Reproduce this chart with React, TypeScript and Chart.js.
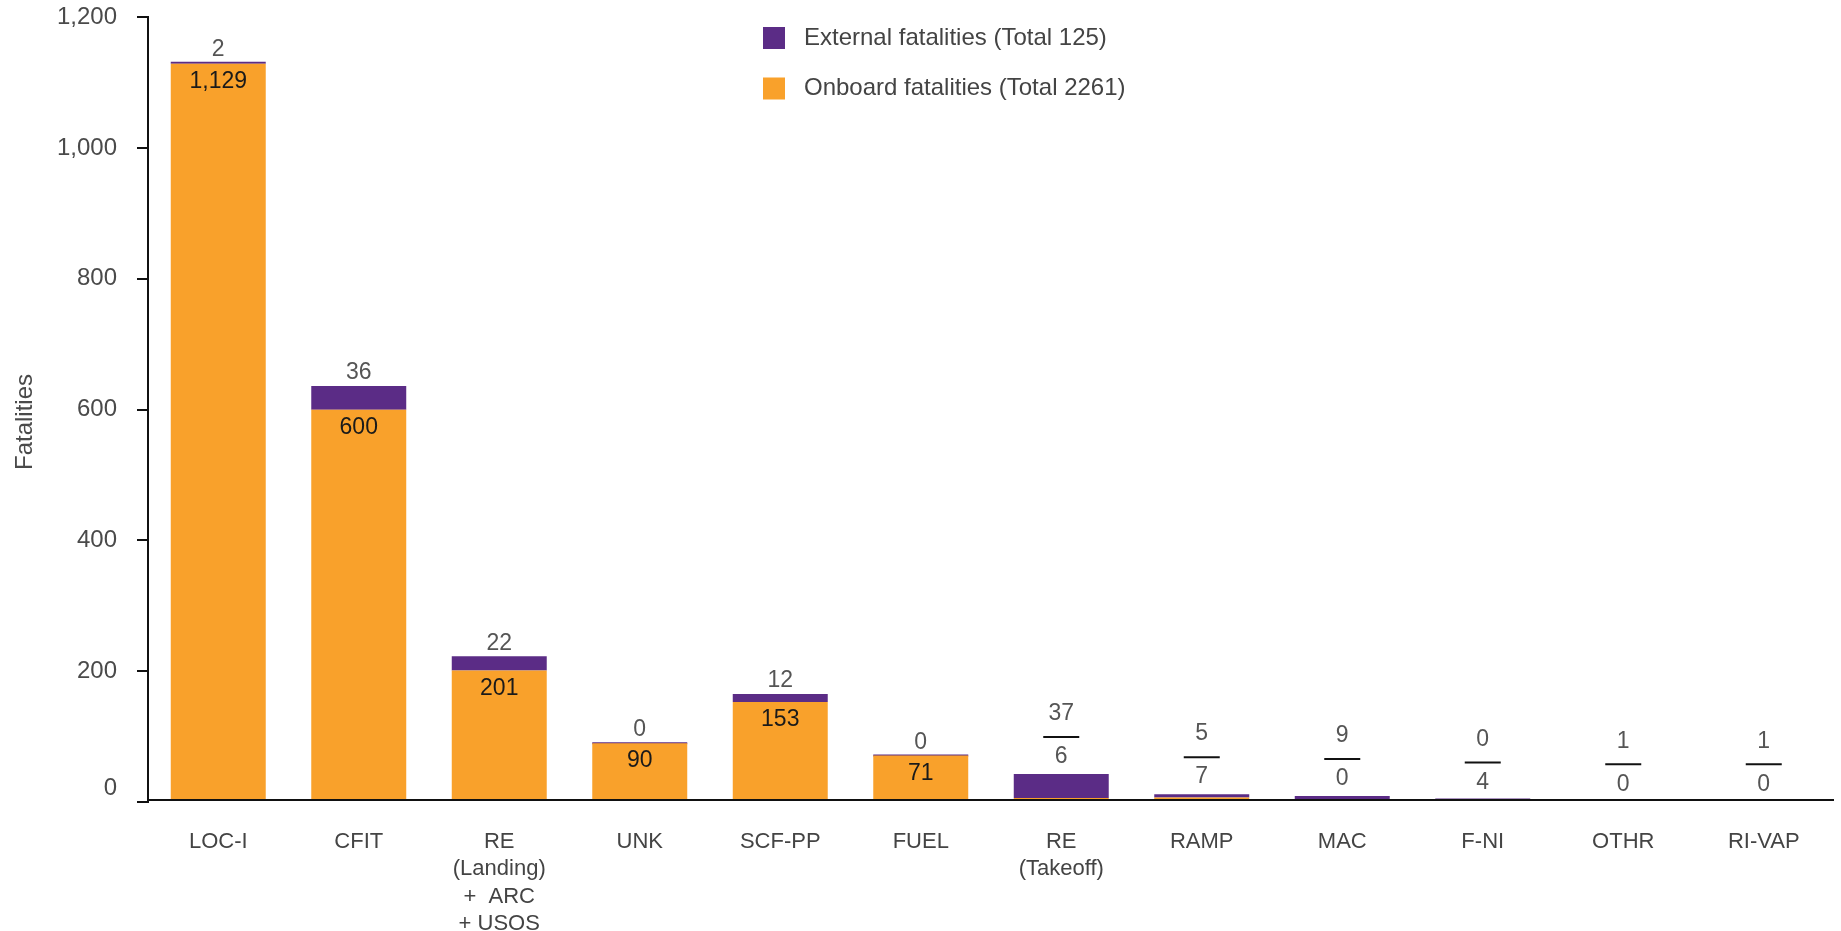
import React, { useEffect, useRef } from 'react';
import { Chart, registerables } from 'chart.js';

Chart.register(...registerables);

const categories: string[][] = [
  ['LOC-I'],
  ['CFIT'],
  ['RE', '(Landing)', '+  ARC', '+ USOS'],
  ['UNK'],
  ['SCF-PP'],
  ['FUEL'],
  ['RE', '(Takeoff)'],
  ['RAMP'],
  ['MAC'],
  ['F-NI'],
  ['OTHR'],
  ['RI-VAP'],
];
const onboard = [1129, 600, 201, 90, 153, 71, 6, 7, 0, 4, 0, 0];
const external = [2, 36, 22, 0, 12, 0, 37, 5, 9, 0, 1, 1];
const yTicks = [0, 200, 400, 600, 800, 1000, 1200];
const legendLabels = ['External fatalities (Total 125)', 'Onboard fatalities (Total 2261)'];
const yTitle = 'Fatalities';

const ORANGE = '#F9A12B';
const PURPLE = '#5B2C86';
const FONT = '"Liberation Sans", Arial, sans-serif';

const fmt = (v: number) => v.toLocaleString('en-US');

const overlayPlugin = {
  id: 'overlay',
  afterDatasetsDraw(chart: any) {
    const ctx = chart.ctx as CanvasRenderingContext2D;
    const xs = chart.scales.x;
    const ys = chart.scales.y;
    const area = chart.chartArea;
    ctx.save();
    // x axis line drawn over bars (bars extend slightly below it)
    const y0 = ys.getPixelForValue(0);
    ctx.strokeStyle = '#111';
    ctx.lineWidth = 2;
    ctx.beginPath();
    ctx.moveTo(area.left, y0 - 2);
    ctx.lineTo(area.right, y0 - 2);
    ctx.stroke();

    ctx.font = `23px ${FONT}`;
    ctx.textAlign = 'center';
    ctx.textBaseline = 'middle';
    categories.forEach((_, i) => {
      const cx = xs.getPixelForValue(i);
      const ob = onboard[i];
      const ex = external[i];
      const top = ys.getPixelForValue(ob + ex);
      const obTop = ys.getPixelForValue(ob);
      if (ob + ex >= 60) {
        ctx.fillStyle = '#555';
        ctx.fillText(fmt(ex), cx, top - 13);
        ctx.fillStyle = '#1a1a1a';
        ctx.fillText(fmt(ob), cx, obTop + 18);
      } else {
        const obY = top - 17;
        const lineY = obY - 20;
        const exY = lineY - 23;
        ctx.fillStyle = '#555';
        ctx.fillText(fmt(ob), cx, obY);
        ctx.fillText(fmt(ex), cx, exY);
        ctx.strokeStyle = '#111';
        ctx.lineWidth = 2;
        ctx.beginPath();
        ctx.moveTo(cx - 18, lineY);
        ctx.lineTo(cx + 18, lineY);
        ctx.stroke();
      }
    });

    // zero tick label (raised)
    ctx.font = `24px ${FONT}`;
    ctx.fillStyle = '#4a4a4a';
    ctx.textAlign = 'right';
    ctx.fillText('0', 117, y0 - 14);

    // y title
    ctx.save();
    ctx.translate(25, 422);
    ctx.rotate(-Math.PI / 2);
    ctx.textAlign = 'center';
    ctx.fillText(yTitle, 0, 0);
    ctx.restore();

    // legend
    const colors = [PURPLE, ORANGE];
    const rows = [38, 88.5];
    ctx.font = `24px ${FONT}`;
    ctx.textAlign = 'left';
    legendLabels.forEach((t, k) => {
      ctx.fillStyle = colors[k];
      ctx.fillRect(763, rows[k] - 11, 22, 22);
      ctx.fillStyle = '#444';
      ctx.fillText(t, 804, rows[k]);
    });
    ctx.restore();
  },
};

export default function App() {
  const ref = useRef<HTMLCanvasElement | null>(null);
  useEffect(() => {
    if (!ref.current) return;
    const chart = new Chart(ref.current, {
      type: 'bar',
      data: {
        labels: categories,
        datasets: [
          {
            label: 'Onboard fatalities',
            data: onboard,
            backgroundColor: ORANGE,
            borderWidth: 0,
            categoryPercentage: 1,
            barPercentage: 0.676,
          },
          {
            label: 'External fatalities',
            data: external,
            backgroundColor: PURPLE,
            borderWidth: 0,
            categoryPercentage: 1,
            barPercentage: 0.676,
            minBarLength: 2,
          },
        ],
      },
      options: {
        animation: false,
        responsive: true,
        maintainAspectRatio: false,
        devicePixelRatio: 1,
        layout: { padding: { top: 17.3, right: 7, left: 0, bottom: 0 } },
        plugins: {
          legend: { display: false },
          tooltip: { enabled: false },
        },
        scales: {
          x: {
            stacked: true,
            grid: { display: false, drawTicks: false },
            border: { display: false },
            ticks: {
              padding: 26,
              color: '#444',
              font: { family: FONT, size: 22, lineHeight: 1.25 },
              maxRotation: 0,
              autoSkip: false,
            },
            afterFit: (s: any) => {
              s.height = 129;
            },
          },
          y: {
            stacked: true,
            min: 0,
            max: 1200,
            afterBuildTicks: (s: any) => {
              s.ticks = yTicks.map((v) => ({ value: v }));
            },
            afterFit: (s: any) => {
              s.width = 148;
              s.paddingTop = 0;
              s.paddingBottom = 0;
            },
            grid: {
              display: true,
              drawOnChartArea: false,
              drawTicks: true,
              tickLength: 11,
              color: '#111',
              lineWidth: 2,
            },
            border: { display: true, color: '#111', width: 2 },
            ticks: {
              padding: 20,
              color: '#4a4a4a',
              font: { family: FONT, size: 24 },
              callback: (v: any) => (Number(v) === 0 ? '' : fmt(Number(v))),
            },
          },
        },
      },
      plugins: [overlayPlugin],
    });
    return () => chart.destroy();
  }, []);
  return (
    <div style={{ position: 'fixed', left: 0, top: 0, width: 1841, height: 931, background: '#fff' }}>
      <canvas ref={ref} />
    </div>
  );
}
